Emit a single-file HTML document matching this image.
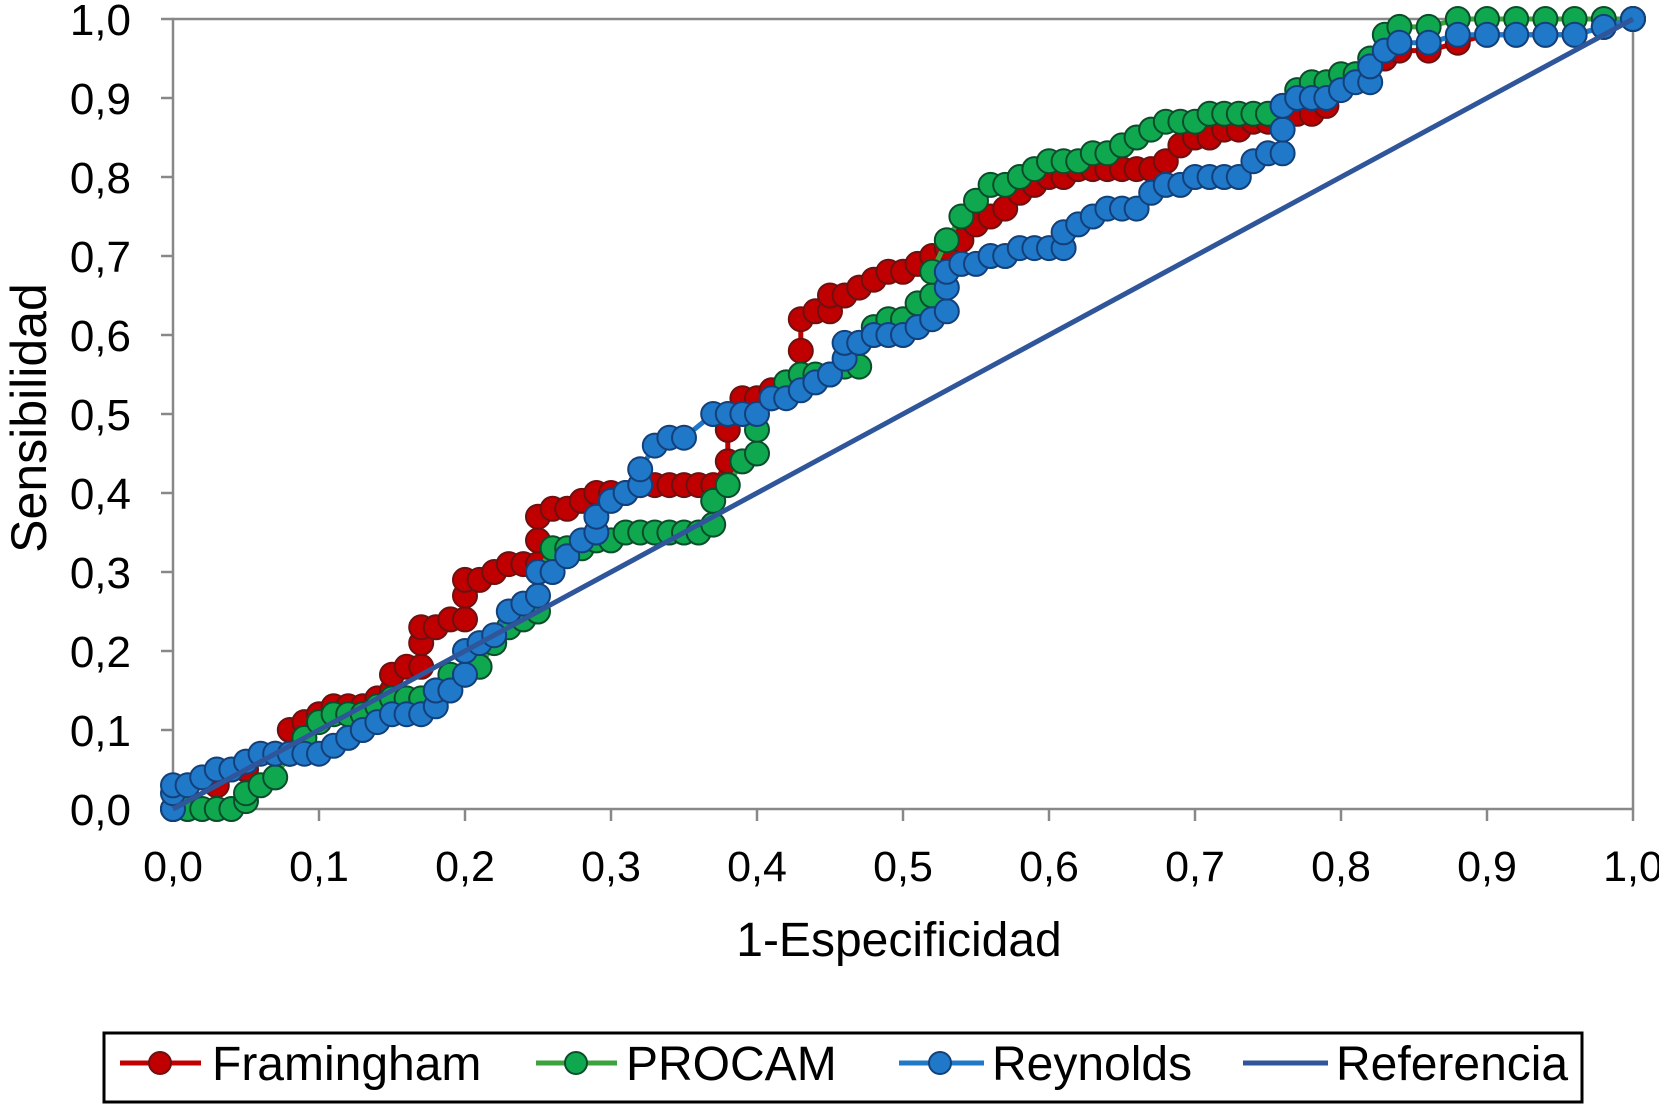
<!DOCTYPE html>
<html><head><meta charset="utf-8"><style>
html,body{margin:0;padding:0;background:#fff;}
svg{display:block;font-family:"Liberation Sans",Arial,sans-serif;}
</style></head><body>
<svg id="chart" width="1659" height="1105" viewBox="0 0 1659 1105">
<rect width="1659" height="1105" fill="#fff"/>
<g id="grid"></g>
<g id="series"></g>
<text x="46" y="418" font-size="50" text-anchor="middle" transform="rotate(-90 46 418)">Sensibilidad</text>
<text x="899" y="956" font-size="48" text-anchor="middle">1-Especificidad</text>
<g>
<rect x="104" y="1033" width="1478" height="69" fill="#fff" stroke="#000" stroke-width="3"/>
<g>
<line x1="120" y1="1063" x2="201" y2="1063" stroke="#C00000" stroke-width="5"/><circle cx="160" cy="1063" r="11" fill="#C00000" stroke="#6e1010" stroke-width="2"/>
<text x="212" y="1080" font-size="48">Framingham</text></g>
<g>
<line x1="536" y1="1063" x2="617" y2="1063" stroke="#3CA33C" stroke-width="5"/><circle cx="576" cy="1063" r="11" fill="#10A84F" stroke="#0b4d2b" stroke-width="2"/>
<text x="626" y="1080" font-size="48">PROCAM</text></g>
<g>
<line x1="899" y1="1063" x2="984" y2="1063" stroke="#1F78C8" stroke-width="5"/><circle cx="940" cy="1063" r="11" fill="#1F78C8" stroke="#13407a" stroke-width="2"/>
<text x="992" y="1080" font-size="48">Reynolds</text></g>
<g>
<line x1="1243" y1="1063" x2="1328" y2="1063" stroke="#2F559A" stroke-width="5"/>
<text x="1336" y="1080" font-size="48">Referencia</text></g>
</g>
</svg>
<script>
const xTicks=[0,0.1,0.2,0.3,0.4,0.5,0.6,0.7,0.8,0.9,1.0];
const yTicks=[0,0.1,0.2,0.3,0.4,0.5,0.6,0.7,0.8,0.9,1.0];
const framX=[0,0.01,0.03,0.05,0.07,0.08,0.08,0.09,0.10,0.11,0.12,0.13,0.14,0.15,0.15,0.16,0.17,0.17,0.17,0.18,0.19,0.20,0.20,0.20,0.21,0.22,0.23,0.24,0.25,0.25,0.25,0.26,0.27,0.28,0.29,0.30,0.31,0.32,0.33,0.34,0.35,0.36,0.37,0.38,0.38,0.39,0.40,0.41,0.42,0.43,0.43,0.43,0.44,0.45,0.45,0.46,0.47,0.48,0.49,0.50,0.51,0.52,0.53,0.54,0.55,0.56,0.57,0.58,0.59,0.60,0.61,0.62,0.63,0.64,0.65,0.66,0.67,0.68,0.69,0.70,0.71,0.72,0.73,0.74,0.75,0.76,0.77,0.78,0.79,0.80,0.81,0.82,0.83,0.84,0.86,0.88,0.90,0.92,0.94,0.96,0.98,1];
const framY=[0,0.01,0.03,0.05,0.07,0.07,0.10,0.11,0.12,0.13,0.13,0.13,0.14,0.15,0.17,0.18,0.18,0.21,0.23,0.23,0.24,0.24,0.27,0.29,0.29,0.30,0.31,0.31,0.31,0.34,0.37,0.38,0.38,0.39,0.40,0.40,0.40,0.41,0.41,0.41,0.41,0.41,0.41,0.44,0.48,0.52,0.52,0.53,0.54,0.55,0.58,0.62,0.63,0.63,0.65,0.65,0.66,0.67,0.68,0.68,0.69,0.70,0.71,0.72,0.74,0.75,0.76,0.78,0.79,0.80,0.80,0.81,0.81,0.81,0.81,0.81,0.81,0.82,0.84,0.85,0.85,0.86,0.86,0.87,0.87,0.88,0.88,0.88,0.89,0.92,0.93,0.94,0.95,0.96,0.96,0.97,0.98,0.98,0.98,0.98,0.99,1];
const procX=[0,0.01,0.02,0.03,0.04,0.05,0.05,0.06,0.07,0.08,0.09,0.10,0.11,0.12,0.13,0.14,0.15,0.16,0.17,0.18,0.19,0.20,0.21,0.22,0.23,0.24,0.25,0.25,0.26,0.27,0.28,0.29,0.30,0.31,0.32,0.33,0.34,0.35,0.36,0.37,0.37,0.38,0.39,0.40,0.40,0.41,0.42,0.43,0.44,0.45,0.46,0.47,0.47,0.48,0.49,0.50,0.51,0.52,0.52,0.53,0.54,0.55,0.56,0.57,0.58,0.59,0.60,0.61,0.62,0.63,0.64,0.65,0.66,0.67,0.68,0.69,0.70,0.71,0.72,0.73,0.74,0.75,0.76,0.77,0.78,0.79,0.80,0.81,0.82,0.83,0.84,0.86,0.88,0.90,0.92,0.94,0.96,0.98,1];
const procY=[0,0,0,0,0,0.01,0.02,0.03,0.04,0.07,0.09,0.11,0.12,0.12,0.12,0.13,0.14,0.14,0.14,0.15,0.17,0.17,0.18,0.21,0.23,0.24,0.25,0.30,0.33,0.33,0.33,0.34,0.34,0.35,0.35,0.35,0.35,0.35,0.35,0.36,0.39,0.41,0.44,0.45,0.48,0.52,0.54,0.55,0.55,0.55,0.56,0.56,0.59,0.61,0.62,0.62,0.64,0.65,0.68,0.72,0.75,0.77,0.79,0.79,0.80,0.81,0.82,0.82,0.82,0.83,0.83,0.84,0.85,0.86,0.87,0.87,0.87,0.88,0.88,0.88,0.88,0.88,0.89,0.91,0.92,0.92,0.93,0.93,0.95,0.98,0.99,0.99,1,1,1,1,1,1,1];
const reyX=[0,0,0,0.01,0.02,0.03,0.04,0.05,0.06,0.07,0.08,0.09,0.10,0.11,0.12,0.13,0.14,0.15,0.16,0.17,0.18,0.18,0.19,0.20,0.20,0.21,0.22,0.23,0.24,0.25,0.25,0.26,0.27,0.28,0.29,0.29,0.30,0.31,0.32,0.32,0.33,0.34,0.35,0.37,0.38,0.39,0.40,0.41,0.42,0.43,0.44,0.45,0.46,0.46,0.47,0.48,0.49,0.50,0.51,0.52,0.53,0.53,0.53,0.54,0.55,0.56,0.57,0.58,0.59,0.60,0.61,0.61,0.62,0.63,0.64,0.65,0.66,0.67,0.68,0.69,0.70,0.71,0.72,0.73,0.74,0.75,0.76,0.76,0.76,0.77,0.78,0.79,0.80,0.81,0.82,0.82,0.83,0.84,0.86,0.88,0.90,0.92,0.94,0.96,0.98,1];
const reyY=[0,0.02,0.03,0.03,0.04,0.05,0.05,0.06,0.07,0.07,0.07,0.07,0.07,0.08,0.09,0.10,0.11,0.12,0.12,0.12,0.13,0.15,0.15,0.17,0.20,0.21,0.22,0.25,0.26,0.27,0.30,0.30,0.32,0.34,0.35,0.37,0.39,0.40,0.41,0.43,0.46,0.47,0.47,0.50,0.50,0.50,0.50,0.52,0.52,0.53,0.54,0.55,0.57,0.59,0.59,0.60,0.60,0.60,0.61,0.62,0.63,0.66,0.68,0.69,0.69,0.70,0.70,0.71,0.71,0.71,0.71,0.73,0.74,0.75,0.76,0.76,0.76,0.78,0.79,0.79,0.80,0.80,0.80,0.80,0.82,0.83,0.83,0.86,0.89,0.90,0.90,0.90,0.91,0.92,0.92,0.94,0.96,0.97,0.97,0.98,0.98,0.98,0.98,0.98,0.99,1];
const refX=[0,1];
const refY=[0,1];

const NS='http://www.w3.org/2000/svg';
const X0=173,X1=1633,Y0=809,Y1=19;
function sx(v){return X0+v*(X1-X0);}
function sy(v){return Y0-v*(Y0-Y1);}
function mk(tag,attrs,parent){const e=document.createElementNS(NS,tag);for(const k in attrs)e.setAttribute(k,attrs[k]);parent.appendChild(e);return e;}
const grid=document.getElementById('grid');
const ser=document.getElementById('series');
let el=mk('rect',{x:X0,y:Y1,width:X1-X0,height:Y0-Y1,fill:'none',stroke:'#888','stroke-width':2.5},grid);


xTicks.forEach(t=>{
  let l=mk('line',{x1:sx(t),x2:sx(t),y1:Y0,y2:Y0+12,stroke:'#888','stroke-width':2.5},grid);
  
  
  let tx=mk('text',{x:sx(t),y:Y0+72,'font-size':43,'text-anchor':'middle'},grid);
  tx.textContent=t.toFixed(1).replace('.',',');
  
  
});
yTicks.forEach(t=>{
  let l=mk('line',{x1:X0-12,x2:X0,y1:sy(t),y2:sy(t),stroke:'#888','stroke-width':2.5},grid);
  
  
  let tx=mk('text',{x:X0-42,y:sy(t)+16,'font-size':44,'text-anchor':'end'},grid);
  tx.textContent=t.toFixed(1).replace('.',',');
  
  
});
function drawSeries(xs,ys,line,fill,stroke,name,markers){
  const g=mk('g',{},ser);
  
  
  const pts=xs.map((x,i)=>sx(x)+','+sy(ys[i])).join(' ');
  let p=mk('polyline',{points:pts,fill:'none',stroke:line,'stroke-width':5,'stroke-linejoin':'round'},g);
  
  
  if(markers){xs.forEach((x,i)=>{
    let c=mk('circle',{cx:sx(x),cy:sy(ys[i]),r:12,fill:fill,stroke:stroke,'stroke-width':2},g);
    
    
  });}
}
drawSeries(framX,framY,'#C00000','#C00000','#6e1010','framingham-series',true);
drawSeries(procX,procY,'#3CA33C','#10A84F','#0b4d2b','procam-series',true);
drawSeries(reyX,reyY,'#1F78C8','#1F78C8','#13407a','reynolds-series',true);
drawSeries(refX,refY,'#2F559A','#2F559A','#2F559A','referencia-series',false);
</script>
</body></html>
